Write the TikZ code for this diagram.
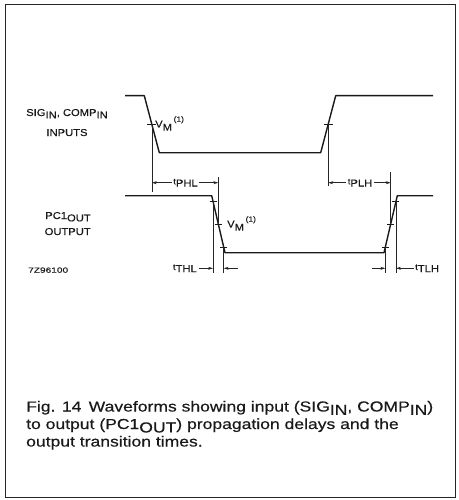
\documentclass[tikz,border=0pt]{standalone}
\usepackage{fontspec}
\setmainfont{Liberation Sans}
\newfontfamily\lblfont{Liberation Sans}[FakeStretch=1.12,FakeBold=0.3]
\newfontfamily\capfont{Liberation Sans}[FakeStretch=1.21,FakeBold=0.4]
\newfontfamily\codefont{Liberation Sans}[FakeStretch=1.35,FakeBold=0.3]
\usetikzlibrary{arrows.meta,calc}
\newcommand\lsub[1]{\raisebox{-0.45ex}{#1}}
\newcommand\tsub[1]{\scalebox{0.85}{t}\raisebox{-0.4ex}{#1}}
\newcommand\vmlab{V\raisebox{-0.6ex}{M}\,\raisebox{1.1ex}{\scalebox{0.75}{(1)}}}
\begin{document}
\begin{tikzpicture}[x=1pt,y=-1pt,
  wave/.style={line width=1.4pt, line join=round, black!90},
  dimln/.style={line width=0.6pt, black!85},
  tickm/.style={line width=0.8pt, black!90},
  arr/.style={line width=0.6pt, black!85, -{Stealth[length=5pt,width=3pt]}},
  lbl/.style={font=\lblfont\fontsize{10}{12}\selectfont, inner sep=0pt, text=black!90},
  tlbl/.style={font=\lblfont\fontsize{10}{12}\selectfont, inner sep=1.5pt, text=black!90},
  caption/.style={font=\capfont\fontsize{14.5}{17}\selectfont, inner sep=0pt, text=black!90, anchor=base west},
  codelbl/.style={font=\codefont\fontsize{7.5}{9}\selectfont, inner sep=0pt, text=black!90}]
\useasboundingbox (0,0) rectangle (458,500);
\draw[line width=1pt, black!85] (5.5,5) rectangle (455,497);

% input waveform
\coordinate (i0) at (125,95.7);
\coordinate (i1) at (144.3,95.7);
\coordinate (i2) at (159.3,152.7);
\coordinate (i3) at (320.7,152.7);
\coordinate (i4) at (335.7,95.7);
\coordinate (i5) at (433,95.7);
\draw[wave] (i0) -- (i1) -- (i2) -- (i3) -- (i4) -- (i5);
\coordinate (im1) at ($(i1)!0.5!(i2)$);
\coordinate (im2) at ($(i3)!0.5!(i4)$);

% output waveform
\coordinate (o0) at (125,195.7);
\coordinate (o1) at (211.7,195.7);
\coordinate (o2) at (225,252.7);
\coordinate (o3) at (384,252.7);
\coordinate (o4) at (397.3,195.7);
\coordinate (o5) at (433,195.7);
\draw[wave] (o0) -- (o1) -- (o2) -- (o3) -- (o4) -- (o5);
\coordinate (oa) at ($(o1)!0.1!(o2)$);
\coordinate (ob) at ($(o1)!0.5!(o2)$);
\coordinate (oc) at ($(o1)!0.9!(o2)$);
\coordinate (od) at ($(o3)!0.1!(o4)$);
\coordinate (oe) at ($(o3)!0.5!(o4)$);
\coordinate (of) at ($(o3)!0.9!(o4)$);

% ticks
\foreach \p in {im1,im2}
  \draw[tickm] ($(\p)+(-4.5,0)$) -- ($(\p)+(4.5,0)$);
\foreach \p in {oa,ob,oc,od,oe,of}
  \draw[tickm] ($(\p)+(-3.5,0)$) -- ($(\p)+(3.5,0)$);

% vertical reference lines
\coordinate (v1) at (im1 |- 0,192);
\coordinate (v2) at (ob |- 0,177);
\coordinate (v3) at (im2 |- 0,186);
\coordinate (v4) at (oe |- 0,172);
\coordinate (v5) at (oa |- 0,273);
\coordinate (v6) at (oc |- 0,273);
\coordinate (v7) at (od |- 0,273);
\coordinate (v8) at (of |- 0,273);
\draw[dimln] (im1) -- (v1);
\draw[dimln] (ob) -- (v2);
\draw[dimln] (im2) -- (v3);
\draw[dimln] (oe) -- (v4);
\draw[dimln] (oa) -- (v5);
\draw[dimln] (oc) -- (v6);
\draw[dimln] (od) -- (v7);
\draw[dimln] (of) -- (v8);

% tPHL
\node[tlbl] (tphl) at (185.5,182.7) {\tsub{PHL}};
\draw[arr] (tphl.west) -- (tphl.west -| im1);
\draw[arr] (tphl.east) -- (tphl.east -| ob);
% tPLH
\node[tlbl] (tplh) at (360,182.7) {\tsub{PLH}};
\draw[arr] (tplh.west) -- (tplh.west -| im2);
\draw[arr] (tplh.east) -- (tplh.east -| oe);
% tTHL
\node[tlbl, anchor=east] (tthl) at (198.5,268.3) {\tsub{THL}};
\coordinate (thr) at (238,268.3);
\draw[arr] (tthl.east) -- (tthl.east -| oa);
\draw[arr] (thr) -- (thr -| oc);
% tTLH
\node[tlbl, anchor=west] (ttlh) at (413.5,268.3) {\tsub{TLH}};
\coordinate (tll) at (371.5,268.3);
\draw[arr] (tll) -- (tll -| od);
\draw[arr] (ttlh.west) -- (ttlh.west -| of);

% VM labels
\node[lbl, anchor=base west] (vm1) at (155,127.5) {\vmlab};
\node[lbl, anchor=base west] (vm2) at (227,227.5) {\vmlab};

% signal labels
\node[lbl, anchor=base] (sig) at (67,116) {SIG\lsub{IN}, COMP\lsub{IN}};
\node[lbl, anchor=base] (inp) at (67,136) {INPUTS};
\node[lbl, anchor=base] (pc1) at (68,219) {PC1\lsub{OUT}};
\node[lbl, anchor=base] (outp) at (67.7,235) {OUTPUT};
\node[codelbl, anchor=base west] (code) at (28,272.7) {7Z96100};

% caption
\node[caption] (cap1) at (26,411.5) {Fig. 14\hspace{0.5em}Waveforms showing input (SIG\lsub{IN}, COMP\lsub{IN})};
\node[caption] (cap2) at (26,429) {to output (PC1\lsub{OUT}) propagation delays and the};
\node[caption] (cap3) at (26,446.5) {output transition times.};
\end{tikzpicture}
\end{document}
